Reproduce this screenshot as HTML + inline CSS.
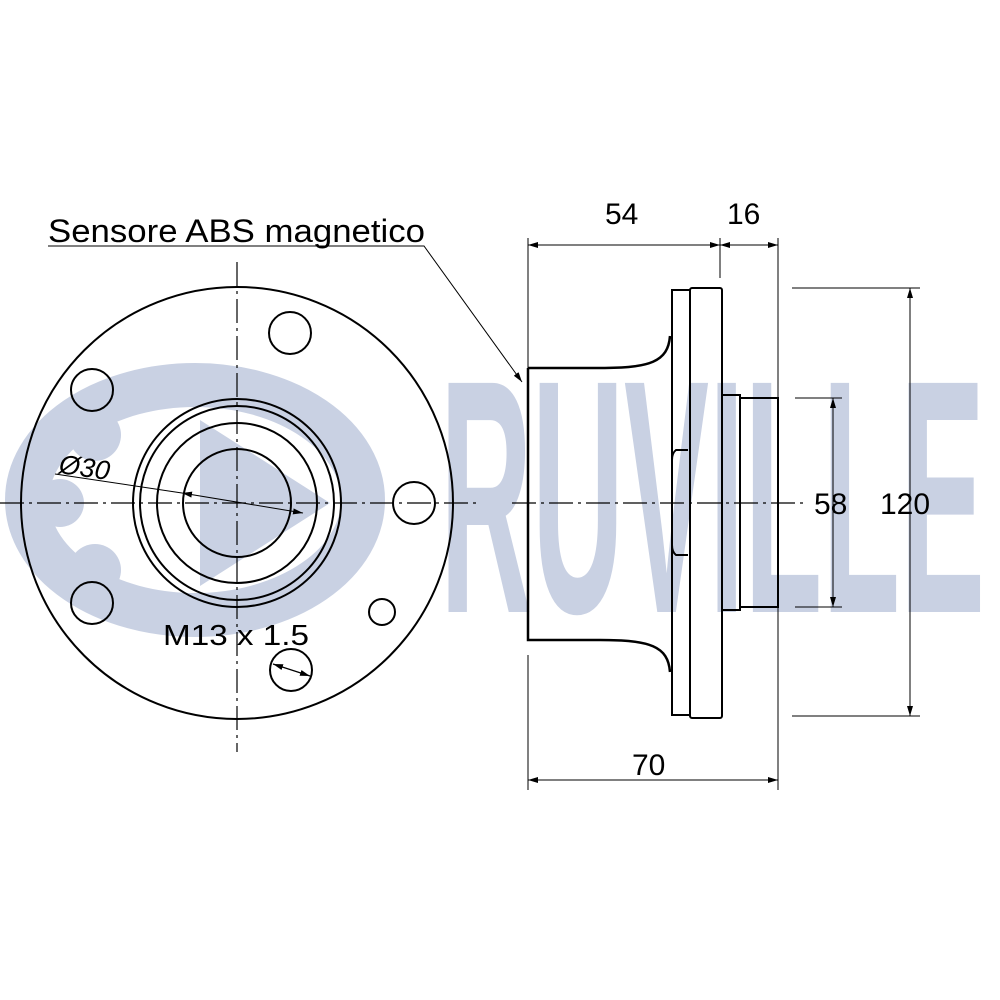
<!DOCTYPE html>
<html><head><style>body{margin:0;background:#fff}svg{display:block}</style></head><body>
<svg width="1000" height="1000" viewBox="0 0 1000 1000" xmlns="http://www.w3.org/2000/svg" font-family="Liberation Sans, sans-serif">
<defs>
<marker id="a" viewBox="0 0 10 6" refX="10" refY="3" markerWidth="10" markerHeight="6" orient="auto-start-reverse" markerUnits="userSpaceOnUse"><path d="M0,0L10,3L0,6z" fill="#000"/></marker>
</defs>
<g fill="#c9d1e3" stroke="none">
<ellipse cx="195" cy="500" rx="168" ry="115" fill="none" stroke="#c9d1e3" stroke-width="44"/>
<circle cx="95" cy="435" r="26"/><circle cx="95" cy="570" r="26"/><circle cx="60" cy="503" r="24"/>
<path d="M200 420 L330 503 L200 586 Z"/>
<text x="440" y="612" font-size="333" font-weight="bold" textLength="545" lengthAdjust="spacingAndGlyphs">RUVILLE</text>
</g>
<g fill="none" stroke="#000">
<line x1="237" y1="262" x2="237" y2="752" stroke-width="1.2" stroke-dasharray="24 5 3 5"/>
<line x1="0" y1="503" x2="480" y2="503" stroke-width="1.2" stroke-dasharray="24 5 3 5"/>
<circle cx="237" cy="503" r="216" stroke-width="2"/>
<circle cx="237" cy="503" r="104" stroke-width="2"/>
<circle cx="237" cy="503" r="97" stroke-width="2"/>
<circle cx="237" cy="503" r="80" stroke-width="2"/>
<circle cx="237" cy="503" r="54" stroke-width="2"/>
<circle cx="290" cy="333" r="21" stroke-width="2"/>
<circle cx="92" cy="390" r="21" stroke-width="2"/>
<circle cx="92" cy="603" r="21" stroke-width="2"/>
<circle cx="414" cy="503" r="21" stroke-width="2"/>
<circle cx="382" cy="612" r="13" stroke-width="2"/>
<circle cx="291" cy="670" r="21" stroke-width="2"/>
<line x1="273" y1="664" x2="310" y2="676" stroke-width="1.2" marker-start="url(#a)" marker-end="url(#a)"/>
<line x1="55" y1="474" x2="182" y2="493" stroke-width="1"/>
<line x1="182" y1="493" x2="303" y2="513" stroke-width="1" marker-start="url(#a)" marker-end="url(#a)"/>
<polyline points="48,246 424,246 522,382" stroke-width="1" marker-end="url(#a)"/>
<line x1="512" y1="503" x2="805" y2="503" stroke-width="1.2" stroke-dasharray="24 5 3 5"/>
<path d="M528 368 H600 C650 368 668 362 670 336 M528 368 V640 H600 C650 640 668 646 670 672" stroke-width="2.5"/>
<rect x="672" y="290" width="18" height="425" stroke-width="2"/>
<rect x="690" y="288" width="32" height="430" rx="2" stroke-width="2"/>
<path d="M688 450 H676 Q672 453 672 460 V545 Q672 552 676 555 H688" stroke-width="2"/>
<rect x="722" y="395" width="18" height="215" stroke-width="2"/>
<rect x="740" y="398" width="38" height="209" stroke-width="2"/>
<g stroke-width="1">
<line x1="528" y1="238" x2="528" y2="372"/>
<line x1="528" y1="655" x2="528" y2="790"/>
<line x1="720" y1="238" x2="720" y2="278"/>
<line x1="778" y1="238" x2="778" y2="790"/>
<line x1="528" y1="245" x2="720" y2="245" marker-start="url(#a)" marker-end="url(#a)"/>
<line x1="720" y1="245" x2="778" y2="245" marker-start="url(#a)" marker-end="url(#a)"/>
<line x1="528" y1="780" x2="778" y2="780" marker-start="url(#a)" marker-end="url(#a)"/>
<line x1="795" y1="398" x2="842" y2="398"/>
<line x1="795" y1="607" x2="842" y2="607"/>
<line x1="833" y1="398" x2="833" y2="607" marker-start="url(#a)" marker-end="url(#a)"/>
<line x1="792" y1="288" x2="920" y2="288"/>
<line x1="792" y1="716" x2="920" y2="716"/>
<line x1="910" y1="288" x2="910" y2="716" marker-start="url(#a)" marker-end="url(#a)"/>
</g>
</g>
<g fill="#000" font-size="30">
<text x="48" y="242" font-size="32" textLength="377" lengthAdjust="spacingAndGlyphs">Sensore  ABS magnetico</text>
<text x="605" y="224">54</text>
<text x="727" y="224">16</text>
<text x="632" y="775">70</text>
<text x="814" y="514">58</text>
<text x="880" y="514">120</text>
<text x="163" y="645" font-size="29" textLength="146" lengthAdjust="spacingAndGlyphs">M13 x 1.5</text>
<text x="58" y="473" font-size="27" font-style="italic" transform="rotate(8 58 473)">Ø30</text>
</g>
</svg>
</body></html>
